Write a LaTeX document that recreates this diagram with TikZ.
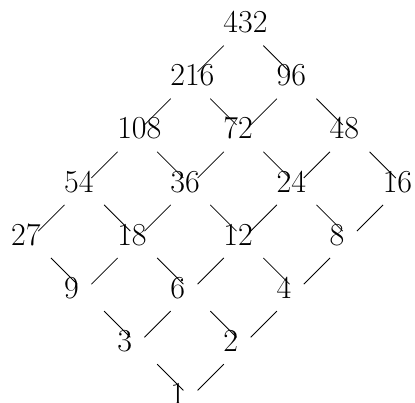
\documentclass[tikz,border=0pt]{standalone}
\usepackage{tikz}

\tikzset{
  vtx/.style={shape=coordinate},
  num/.style={anchor=base west,inner sep=0pt,xshift=-15.3pt,yshift=-5.25pt,
    font=\fontsize{24}{28}\selectfont},
  link/.style={line width=0.6pt,shorten <=21pt,shorten >=7.5pt},
}

\begin{document}
\begin{tikzpicture}[x=39.825pt,y=39.825pt]
  \useasboundingbox (-3.588,-0.104) rectangle (4.228,7.486);
  % divisors, one per grid point
  \foreach \v/\x/\y in {1/0/0, 2/1/1, 3/-1/1, 4/2/2, 6/0/2, 9/-2/2,
      8/3/3, 12/1/3, 18/-1/3, 27/-3/3, 16/4/4, 24/2/4, 36/0/4, 54/-2/4,
      48/3/5, 72/1/5, 108/-1/5, 96/2/6, 216/0/6, 432/1/7} {
    \node[vtx] (n\v) at (\x,\y) {};
    \node[num] (t\v) at (n\v) {\v};
  }
  % covering relations, upper to lower
  \foreach \u/\l in {432/216, 432/96, 216/108, 216/72, 96/72, 96/48,
      108/54, 108/36, 72/36, 72/24, 48/24, 48/16,
      54/27, 54/18, 36/18, 36/12, 24/12, 24/8, 16/8,
      27/9, 18/9, 18/6, 12/6, 12/4, 8/4,
      9/3, 6/3, 6/2, 4/2, 3/1, 2/1}
    \draw[link] (n\u) -- (n\l);
\end{tikzpicture}
\end{document}
